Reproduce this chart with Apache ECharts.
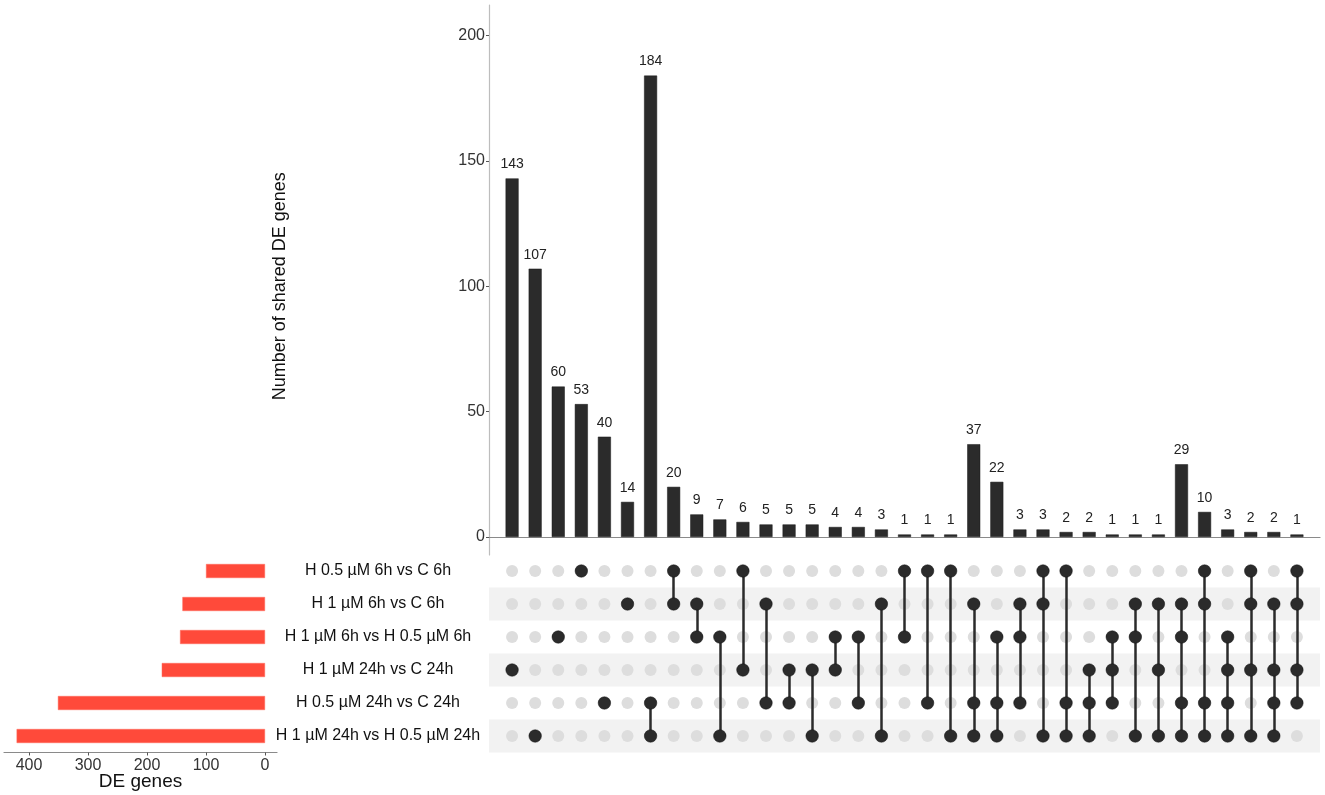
<!DOCTYPE html>
<html>
<head>
<meta charset="utf-8">
<script src="https://cdn.jsdelivr.net/npm/echarts@6/dist/echarts.min.js"></script>
<style>
html,body{margin:0;padding:0;background:#fff;}
#chart{width:1325px;height:795px;}
</style>
</head>
<body>
<div id="chart"></div>
<script>
// ---- data ----
const setNames = [
  'H 0.5 µM 6h vs C 6h',
  'H 1 µM 6h vs C 6h',
  'H 1 µM 6h vs H 0.5 µM 6h',
  'H 1 µM 24h vs C 24h',
  'H 0.5 µM 24h vs C 24h',
  'H 1 µM 24h vs H 0.5 µM 24h'
];
const setSizes = [100, 140, 144, 175, 351, 421];
const intersectionCounts = [143, 107, 60, 53, 40, 14, 184, 20, 9, 7, 6, 5, 5, 5, 4, 4, 3, 1, 1, 1,
  37, 22, 3, 3, 2, 2, 1, 1, 1, 29, 10, 3, 2, 2, 1];
const intersectionMembers = [
  [3],[5],[2],[0],[4],[1],[4,5],[0,1],[1,2],[2,5],[0,3],[1,4],[3,4],[3,5],[2,3],[2,4],[1,5],[0,2],[0,4],[0,5],
  [1,4,5],[2,4,5],[1,2,4],[0,1,5],[0,4,5],[3,4,5],[2,3,4],[1,2,5],[1,3,5],
  [1,2,4,5],[0,1,4,5],[2,3,4,5],[0,1,3,5],[1,3,4,5],[0,1,3,4]
];
const topTicks = [0, 50, 100, 150, 200];
const leftTicks = [0, 100, 200, 300, 400];

// ---- build series data ----
const FONT = "'Liberation Sans', Arial, sans-serif";
const nCols = intersectionCounts.length;
const barData = intersectionCounts.map((v, i) => [i, v]);
const activeDots = [], inactiveDots = [], linkLines = [];
intersectionMembers.forEach((m, i) => {
  for (let r = 0; r < setNames.length; r++) {
    if (m.indexOf(r) >= 0) activeDots.push([i, r]); else inactiveDots.push([i, r]);
  }
  if (m.length > 1) {
    linkLines.push({coords: [[i, Math.min(...m)], [i, Math.max(...m)]]});
  }
});
const stripeRows = [];
for (let r = 1; r < setNames.length; r += 2) stripeRows.push([r]);

const chart = echarts.init(document.getElementById('chart'), null, {renderer: 'canvas'});
const hidden = {show: false};
chart.setOption({
  animation: false,
  textStyle: {fontFamily: FONT},
  grid: [
    {left: 489, width: 831, top: 35.5, height: 501.5},  // 0 top bars
    {left: 489, width: 831, top: 5, height: 550},       // 1 top y axis line
    {left: 489, width: 831, top: 554.5, height: 198},   // 2 matrix
    {left: 29, width: 236, top: 554.5, height: 198},    // 3 set size bars
    {left: 4, width: 273, top: 554.5, height: 198}      // 4 set size axis line
  ],
  xAxis: [
    {gridIndex: 0, type: 'value', min: -1, max: nCols,
     axisLine: {show: true, onZero: false, lineStyle: {color: '#8a8a8a', width: 1.2}},
     axisTick: hidden, axisLabel: hidden, splitLine: hidden},
    {gridIndex: 1, type: 'value', min: 0, max: 1, show: false},
    {gridIndex: 2, type: 'value', min: -1, max: nCols, show: false},
    {gridIndex: 3, type: 'value', min: 0, max: 400, interval: 100, inverse: true,
     axisLine: {show: false, onZero: false}, splitLine: hidden,
     axisTick: {show: true, length: 3, lineStyle: {color: '#555'}},
     axisLabel: {color: '#333', fontSize: 16, margin: 5,
       formatter: v => leftTicks.indexOf(v) >= 0 ? String(v) : ''}},
    {gridIndex: 4, type: 'value', min: 0, max: 1,
     axisLine: {show: true, onZero: false, lineStyle: {color: '#8a8a8a', width: 1.2}},
     axisTick: hidden, axisLabel: hidden, splitLine: hidden,
     name: 'DE genes', nameLocation: 'middle', nameGap: 20,
     nameTextStyle: {fontSize: 19, color: '#111', fontFamily: FONT}}
  ],
  yAxis: [
    {gridIndex: 0, type: 'value', min: 0, max: 200, interval: 50,
     axisLine: {show: false, onZero: false}, splitLine: hidden,
     axisTick: {show: true, length: 3, lineStyle: {color: '#555'}},
     axisLabel: {color: '#333', fontSize: 16, margin: 4,
       formatter: v => topTicks.indexOf(v) >= 0 ? String(v) : ''},
     name: 'Number of shared DE genes', nameLocation: 'middle', nameRotate: 90, nameGap: 200,
     nameTextStyle: {fontSize: 18, color: '#111', fontFamily: FONT}},
    {gridIndex: 1, type: 'value', min: 0, max: 1,
     axisLine: {show: true, onZero: false, lineStyle: {color: '#bdbdbd', width: 1.2}},
     axisTick: hidden, axisLabel: hidden, splitLine: hidden},
    {gridIndex: 2, type: 'value', min: -0.5, max: setNames.length - 0.5, inverse: true, show: false},
    {gridIndex: 3, type: 'category', data: setNames, inverse: true, position: 'right',
     axisLine: {show: false, onZero: false}, axisTick: hidden, splitLine: hidden,
     axisLabel: {color: '#111', fontSize: 16, align: 'center', margin: 113}},
    {gridIndex: 4, type: 'value', show: false}
  ],
  series: [
    {type: 'bar', xAxisIndex: 0, yAxisIndex: 0, data: barData, barWidth: 13,
     itemStyle: {color: '#2b2b2b', borderColor: '#1a1a1a', borderWidth: 0.5},
     label: {show: true, position: 'top', distance: 7, color: '#222', fontSize: 14, fontFamily: FONT,
       formatter: p => String(p.value[1])}},
    {type: 'custom', xAxisIndex: 2, yAxisIndex: 2, data: stripeRows, silent: true, z: 1,
     renderItem: function (params, api) {
       const r = api.value(0);
       const p0 = api.coord([-1, r - 0.5]);
       const p1 = api.coord([nCols, r + 0.5]);
       return {type: 'rect', shape: {x: p0[0], y: p0[1], width: p1[0] - p0[0], height: p1[1] - p0[1]},
               style: {fill: '#f2f2f2'}};
     }},
    {type: 'scatter', xAxisIndex: 2, yAxisIndex: 2, data: inactiveDots, symbolSize: 12,
     itemStyle: {color: '#dddddd', opacity: 1}, z: 2},
    {type: 'lines', coordinateSystem: 'cartesian2d', xAxisIndex: 2, yAxisIndex: 2,
     data: linkLines, label: {show: false},
     lineStyle: {color: '#2b2b2b', width: 2.5, opacity: 1}, z: 3},
    {type: 'scatter', xAxisIndex: 2, yAxisIndex: 2, data: activeDots, symbolSize: 12.5,
     itemStyle: {color: '#2b2b2b', borderColor: '#111', borderWidth: 0.5, opacity: 1}, z: 4},
    {type: 'bar', xAxisIndex: 3, yAxisIndex: 3, data: setSizes, barWidth: 14, clip: false,
     itemStyle: {color: '#ff4a3a', borderColor: '#ff6a5a', borderWidth: 0.5}}
  ]
});
</script>
</body>
</html>
